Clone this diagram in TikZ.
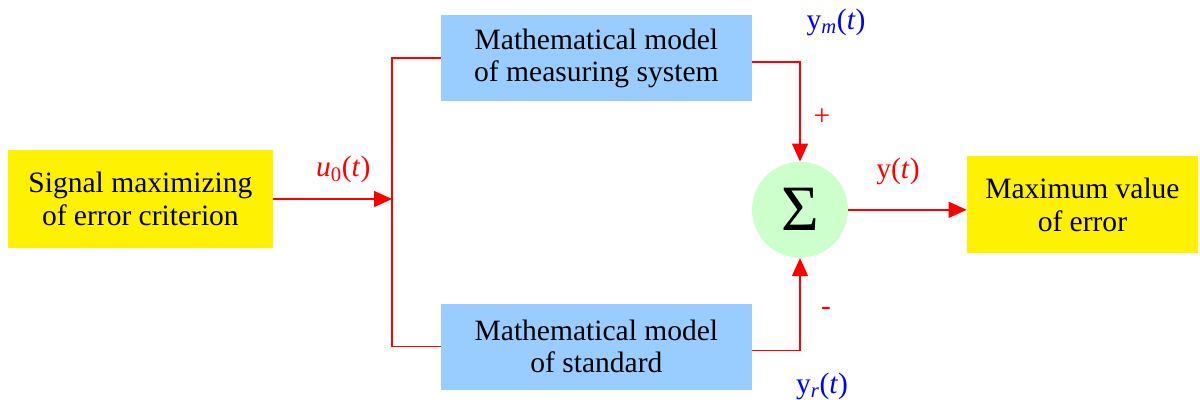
\documentclass[tikz,border=0pt]{standalone}
\usepackage{fontspec}
\setmainfont{Liberation Serif}
\usepackage{xcolor}
\usepackage{tikz}
\usetikzlibrary{arrows.meta, calc}

\definecolor{boxblue}{RGB}{153,204,255}
\definecolor{sumgreen}{RGB}{204,255,204}
\definecolor{sigblue}{RGB}{0,0,255}

\begin{document}
\begin{tikzpicture}[
    font=\fontsize{21}{23}\selectfont,
    term/.style={rectangle, fill=yellow, align=center, inner sep=0pt},
    model/.style={rectangle, fill=boxblue, align=center, inner sep=0pt, minimum width=7.775cm, minimum height=2.15cm},
    arr/.style={-{Triangle[length=0.45cm,width=0.4cm]}, red, line width=1pt},
    wire/.style={red, line width=1pt},
    lbl/.style={text=red},
    sig/.style={text=sigblue}
]
    \useasboundingbox (0,0) rectangle (30,10.075);

    \node[term, minimum width=6.625cm, minimum height=2.45cm] (src) at (3.51,5.1) {Signal maximizing\\of error criterion};
    \node[model] (mms) at (14.91,8.62) {Mathematical model\\of measuring system};
    \node[model] (std) at (14.91,1.41) {Mathematical model\\of standard};
    \node[circle, fill=sumgreen, minimum size=2.4cm, inner sep=0pt] (sum) at (20,4.83) {\fontsize{46}{50}\selectfont Σ};
    \node[term, minimum width=5.775cm, minimum height=2.425cm] (out) at (27.06,4.95) {Maximum value\\of error};

    \coordinate (split) at (9.8,5.1);

    \draw[arr] (src.east) -- (split);
    \draw[wire] (mms.west) -| (split) |- (std.west);
    \draw[arr] ([yshift=-0.1cm]mms.east) -| (sum.north);
    \draw[arr] ([yshift=-0.1cm]std.east) -| (sum.south);
    \draw[arr] (sum.east) -- (sum -| out.west);

    % signal labels
    \node[lbl] (lu) at (8.58,5.83) {\textit{u}\textsubscript{0}(\textit{t})};
    \node[sig] (lym) at (20.9,9.52) {y\textsubscript{\textit{m}}(\textit{t})};
    \node[sig] (lyr) at (20.55,0.42) {y\textsubscript{\textit{r}}(\textit{t})};
    \node[lbl] (ly) at (22.45,5.78) {y(\textit{t})};
    \node[lbl] (lplus) at (20.55,7.15) {+};
    \node[lbl] (lminus) at (20.65,2.3) {-};
\end{tikzpicture}
\end{document}
